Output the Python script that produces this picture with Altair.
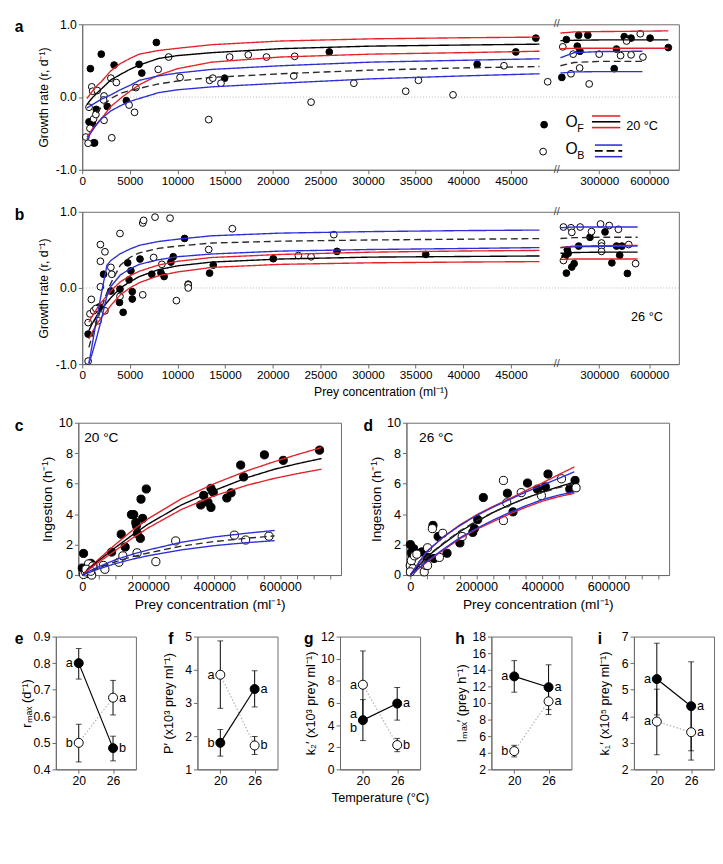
import altair as alt
import pandas as pd

FONT = "Liberation Sans"
RED = "#e3232b"
BLUE = "#2f2fd8"
DARK = "#2a2a2a"
FRAME = "#6a6a6a"

# ---------------- Panel a (20 C) growth data ----------------
A_F_X = [860, 2000, 3350, 716, 1100, 1194, 1300, 1480, 2630, 4633, 5970, 6256, 7785, 14949, 25934, 41455, 45515, 47616,
         76400, 103600, 169000, 177000, 185000, 232000, 390000, 403600, 450000, 491000, 605000, 714000]
A_F_Y = [0.39, 0.59, 0.44, -0.34, -0.375, -0.63, -0.63, -0.17, -0.13, -0.05, 0.45, 0.33, 0.75, 0.26, 0.62, 0.45, 0.62, 0.81,
         0.27, 0.79, 0.70, 0.85, 0.63, 0.85, 0.39, 0.66, 0.83, 0.81, 0.81, 0.68]
A_B_X = [382, 621, 812, 716, 1003, 1098, 1194, 1433, 1576, 2292, 2245, 2292, 3009, 3582, 3104, 4919, 5492, 5636, 7976,
         9074, 10268, 13277, 13373, 13707, 14567, 15474, 17432, 19342, 22304, 22208, 24023, 28513, 33957, 35294, 38924,
         44273, 48860, 82000, 131000, 144000, 183000, 240000, 300000, 428000, 464000, 491000, 546000, 562000]
A_B_Y = [-0.55, -0.635, -0.43, -0.14, 0.14, 0.08, -0.30, -0.24, 0.09, 0.015, -0.04, -0.32, 0.26, 0.20, -0.56, -0.11,
         -0.21, 0.13, 0.38, 0.55, 0.27, -0.31, 0.23, 0.26, 0.19, 0.55, 0.58, 0.55, 0.56, 0.29, -0.07, 0.19, 0.08, 0.23,
         0.03, 0.43, 0.21, 0.69, 0.32, 0.59, 0.40, 0.18, 0.59, 0.57, 0.77, 0.58, 0.87, 0.55]

A_CX_L = [500, 1000, 1500, 2000, 3000, 4000, 5000, 6000, 8000, 10000, 13600, 20800, 30300, 39900, 48000]
A_FHI_L = [-0.02, 0.07, 0.15, 0.21, 0.36, 0.46, 0.53, 0.59, 0.64, 0.67, 0.72, 0.77, 0.80, 0.815, 0.824]
A_FMID_L = [-0.10, -0.02, 0.05, 0.11, 0.235, 0.31, 0.38, 0.44, 0.53, 0.57, 0.61, 0.665, 0.70, 0.715, 0.727]
A_FLO_L = [-0.55, -0.45, -0.37, -0.30, -0.13, -0.02, 0.08, 0.17, 0.30, 0.39, 0.48, 0.55, 0.59, 0.61, 0.63]
A_BHI_L = [-0.15, -0.11, -0.07, -0.03, 0.03, 0.10, 0.16, 0.23, 0.29, 0.33, 0.38, 0.43, 0.48, 0.505, 0.526]
A_BMID_L = [None, None, -0.22, -0.14, -0.02, 0.05, 0.09, 0.12, 0.18, 0.22, 0.27, 0.32, 0.37, 0.40, 0.42]
A_BLO_L = [-0.58, -0.47, -0.38, -0.30, -0.19, -0.12, -0.06, -0.02, 0.06, 0.10, 0.14, 0.19, 0.25, 0.29, 0.32]
A_CX_R = [68000, 150000, 300000, 559000, 714000]
A_FHI_R = [0.88, 0.895, 0.90, 0.905, 0.91]
A_FMID_R = [0.775, 0.78, 0.785, 0.785, 0.785]
A_FLO_R = [0.665, 0.67, 0.67, 0.67, 0.67]
A_BHI_R = [0.54, 0.61, 0.625, 0.63, None]
A_BMID_R = [0.43, 0.475, 0.49, 0.49, None]
A_BLO_R = [0.33, 0.345, 0.35, 0.35, None]

# ---------------- Panel b (26 C) growth data ----------------
B_F_X = [620, 1800, 2245, 3009, 3964, 3916, 4298, 4776, 4919, 5254, 5254, 5110, 6065, 7307, 8262, 8597, 9313, 9552,
         10746, 11128, 13373, 13755, 20059, 26746, 36060,
         95500, 103600, 109000, 114500, 136000, 150000, 177000, 245000, 335000, 376000, 404000, 423000, 436000, 469000]
B_F_Y = [-0.606, -0.25, 0.18, -0.04, -0.015, -0.19, -0.32, 0.33, 0.107, -0.048, -0.145, 0.225, 0.38, 0.18, 0.20, 0.15,
         0.34, 0.41, 0.65, 0.05, 0.195, 0.30, 0.384, 0.48, 0.44,
         0.41, 0.195, 0.50, 0.455, 0.275, 0.32, 0.55, 0.665, 0.736, 0.33, 0.55, 0.43, 0.55, 0.19]
B_B_X = [620, 620, 812, 955, 1194, 1433, 1670, 1910, 1910, 1910, 2388, 2388, 3009, 3104, 3964, 3964, 6352, 6448, 6352,
         7498, 7642, 8358, 9218, 9886, 11128, 11128, 13277, 15761, 22686, 24023, 26411,
         86000, 86000, 131000, 136000, 186000, 254000, 308000, 314000, 314000, 314000, 360000, 415000, 477000, 518000]
B_B_Y = [-0.96, -0.455, -0.34, -0.15, -0.30, -0.27, -0.43, 0.57, 0.35, 0.015, 0.475, -0.30, 0.27, 0.18, 0.715, -0.11,
         0.853, 0.887, -0.09, 0.40, 0.93, 0.31, 0.916, -0.166, 0.04, 0.0, 0.505, 0.778, 0.425, 0.41, 0.70,
         0.80, 0.36, 0.79, 0.73, 0.80, 0.74, 0.84, 0.59, 0.55, 0.48, 0.82, 0.77, 0.57, 0.32]

B_CX_L = [700, 1000, 1500, 2000, 2600, 3000, 4000, 5000, 6000, 8000, 10000, 13600, 20800, 30300, 39900, 48000]
B_BHI_L = [-0.99, -0.78, -0.42, -0.08, 0.30, 0.36, 0.45, 0.51, 0.56, 0.61, 0.64, 0.685, 0.72, 0.74, 0.753, 0.76]
B_BMID_L = [-0.78, -0.65, -0.45, -0.27, -0.06, 0.06, 0.30, 0.40, 0.46, 0.52, 0.55, 0.59, 0.614, 0.63, 0.64, 0.648]
B_BLO_L = [-0.99, -0.88, -0.66, -0.42, -0.10, 0.02, 0.17, 0.25, 0.31, 0.37, 0.41, 0.446, 0.484, 0.505, 0.518, 0.53]
B_FHI_L = [-0.45, -0.38, -0.28, -0.19, -0.10, -0.04, 0.08, 0.16, 0.22, 0.30, 0.35, 0.40, 0.44, 0.47, 0.485, 0.493]
B_FMID_L = [-0.56, -0.48, -0.37, -0.28, -0.19, -0.13, 0.0, 0.08, 0.15, 0.24, 0.29, 0.34, 0.38, 0.405, 0.413, 0.42]
B_FLO_L = [-0.67, -0.59, -0.48, -0.39, -0.30, -0.23, -0.09, 0.0, 0.07, 0.16, 0.21, 0.27, 0.31, 0.33, 0.34, 0.346]
B_CX_R = [68000, 150000, 300000, 530000]
B_BHI_R = [0.79, 0.80, 0.80, 0.80]
B_BMID_R = [0.65, 0.66, 0.665, 0.665]
B_BLO_R = [0.53, 0.54, 0.545, 0.55]
B_FHI_R = [0.53, 0.55, 0.555, 0.56]
B_FMID_R = [0.455, 0.465, 0.47, 0.47]
B_FLO_R = [0.375, 0.38, 0.38, 0.38]

# ---------------- Panel c (20 C) ingestion ----------------
C_F_X = [0, 3800, 7600, 16000, 25700, 32000, 89000, 118000, 130000, 149000, 156000, 162000, 164000, 167000, 176000,
         178000, 183000, 194000, 359000, 368000, 381000, 390000, 390000, 397000, 438000, 451000, 480000, 489000,
         552000, 609000, 719000]
C_F_Y = [0.46, 1.42, 0.25, 0.10, 0.77, 0.63, 1.51, 2.68, 1.84, 3.97, 3.97, 3.45, 3.24, 2.72, 2.41, 4.98, 3.72, 5.65,
         4.60, 5.23, 4.77, 4.44, 5.69, 5.44, 5.06, 5.40, 7.22, 6.44, 7.89, 7.53, 8.20]
C_B_X = [3800, 9500, 19000, 28500, 32000, 11400, 25700, 64000, 68500, 111000, 123000, 166000, 223000, 283000, 461000,
         495000, 565700]
C_B_Y = [0.04, 0.21, 0.73, 0.0, 0.59, 0.38, 0.25, 0.63, 0.38, 0.84, 1.26, 1.46, 0.88, 2.24, 2.62, 2.30, 2.55]
C_CX = [0, 25000, 50000, 100000, 150000, 200000, 300000, 400000, 500000, 583000, 650000, 725000]
C_FHI = [0, 0.55, 1.05, 2.0, 2.9, 3.7, 5.0, 6.0, 6.85, 7.45, 7.9, 8.37]
C_FMID = [0, 0.5, 0.95, 1.8, 2.6, 3.35, 4.6, 5.55, 6.4, 6.95, 7.3, 7.65]
C_FLO = [0, 0.45, 0.85, 1.6, 2.4, 3.1, 4.3, 5.2, 5.9, 6.35, 6.65, 6.95]
C_BHI = [0, 0.3, 0.55, 1.0, 1.35, 1.65, 2.15, 2.5, 2.75, 2.93, None, None]
C_BMID = [0, 0.25, 0.48, 0.87, 1.2, 1.45, 1.9, 2.2, 2.42, 2.57, None, None]
C_BLO = [0, 0.2, 0.4, 0.75, 1.03, 1.27, 1.65, 1.93, 2.13, 2.26, None, None]

# ---------------- Panel d (26 C) ingestion ----------------
D_F_X = [0, 2900, 5900, 9800, 0, 35000, 52000, 68500, 71500, 84000, 111000, 150000, 189000, 194000, 204000, 221000,
         294000, 311000, 355000, 385000, 409000, 417000, 483000, 499000]
D_F_Y = [2.0, 1.47, 1.26, 1.73, 0.63, 1.52, 1.16, 3.26, 1.09, 2.53, 1.43, 2.11, 2.80, 3.05, 3.64, 5.09, 5.37, 4.15,
         6.04, 5.64, 5.79, 6.63, 5.64, 6.21]
D_B_X = [0, 2900, 7800, 0, 12700, 19600, 37000, 42000, 47000, 52000, 52000, 66600, 88000, 98000, 157000, 282000,
         282000, 292000, 336000, 397000, 458000, 502000]
D_B_Y = [0.63, 0.95, 0.42, 0.21, 1.26, 1.37, 0.74, 0.21, 0.63, 1.79, 0.63, 3.05, 1.16, 2.74, 2.53, 6.21, 3.58, 4.74,
         5.41, 5.22, 6.32, 5.73]
D_CX = [0, 25000, 50000, 100000, 150000, 200000, 250000, 300000, 350000, 400000, 450000, 497000]
D_FHI = [0, 0.8, 1.55, 2.5, 3.3, 3.95, 4.5, 5.0, 5.55, 6.05, 6.6, 7.1]
D_FMID = [0, 0.6, 1.2, 2.05, 2.85, 3.5, 4.1, 4.6, 5.05, 5.45, 5.8, 6.1]
D_FLO = [0, 0.42, 0.85, 1.65, 2.38, 3.0, 3.5, 4.0, 4.45, 4.85, 5.15, 5.37]
D_BHI = [0, 0.8, 1.55, 2.5, 3.25, 3.9, 4.45, 4.95, 5.45, 5.9, 6.35, 6.78]
D_BMID = [0, 0.62, 1.22, 2.1, 2.9, 3.55, 4.12, 4.6, 5.05, 5.42, 5.75, 6.0]
D_BLO = [0, 0.45, 0.9, 1.7, 2.45, 3.05, 3.6, 4.1, 4.55, 4.95, 5.25, 5.47]

# ---------------- Panels e-i: parameters ----------------
TEMPS = [20, 26]
E_F = [0.80, 0.48]; E_F_LO = [0.74, 0.432]; E_F_HI = [0.855, 0.525]
E_B = [0.50, 0.67]; E_B_LO = [0.428, 0.605]; E_B_HI = [0.57, 0.735]
E_LT = [20, 20, 26, 26]; E_LY = [0.80, 0.50, 0.48, 0.67]; E_LS = ["a", "b", "b", "a"]

F_F = [1.8, 3.42]; F_F_LO = [1.4, 2.88]; F_F_HI = [2.2, 3.97]
F_B = [3.85, 1.72]; F_B_LO = [2.84, 1.45]; F_B_HI = [4.87, 1.99]
F_LT = [20, 20, 26, 26]; F_LY = [1.8, 3.85, 3.42, 1.72]; F_LS = ["b", "a", "a", "b"]

G_F = [4.45, 5.95]; G_F_LO = [2.6, 4.45]; G_F_HI = [6.3, 7.4]
G_B = [7.65, 2.2]; G_B_LO = [4.6, 1.6]; G_B_HI = [10.7, 2.8]
G_LT = [20, 20, 20, 26, 26]; G_LY = [7.65, 5.0, 3.75, 5.95, 2.2]; G_LS = ["a", "a", "b", "a", "b"]

H_F = [13.2, 11.9]; H_F_LO = [11.3, 9.2]; H_F_HI = [15.1, 14.6]
H_B = [4.2, 10.2]; H_B_LO = [3.5, 8.6]; H_B_HI = [4.9, 11.8]
H_LT = [20, 20, 26, 26]; H_LY = [13.2, 4.2, 11.9, 10.2]; H_LS = ["a", "b", "a", "a"]

I_F = [5.4, 4.38]; I_F_LO = [4.05, 2.7]; I_F_HI = [6.75, 6.05]
I_B = [3.8, 3.4]; I_B_LO = [2.55, 2.35]; I_B_HI = [5.02, 4.45]
I_LT = [20, 20, 26, 26]; I_LY = [5.4, 3.8, 4.38, 3.4]; I_LS = ["a", "a", "a", "a"]

A_TICKS_L = [0, 5000, 10000, 15000, 20000, 25000, 30000, 35000, 40000, 45000]
A_TICKS_R = [300000, 600000]

# ---------------- layout constants ----------------
W_AB = 611
HGT_A, HGT_B = 149, 156
W_CD, HGT_CD = 269, 156
W_EI, HGT_EI = 82, 136
KL = 439.0 / 45000.0
U300 = 529.4
KR = 51.3 / 300000.0
BREAK_X = 60000
BREAK_U = 486
U_EXPR = f"datum.x <= {BREAK_X} ? datum.x * {KL} : {U300} + (datum.x - 300000) * {KR}"


def to_u(x):
    return x * KL if x <= BREAK_X else U300 + (x - 300000) * KR


def label_expr(values, labels):
    parts = [f"abs(datum.value - {v:.4f}) < 0.01 ? '{l}'" for v, l in zip(values, labels)]
    return " : ".join(parts) + " : ''"


CURVE_IDS = ["F_hi", "F_mid", "F_lo", "B_hi", "B_mid", "B_lo"]
CURVE_COLORS = [RED, "#000000", RED, BLUE, DARK, BLUE]
CURVE_DASH = [[1, 0], [1, 0], [1, 0], [1, 0], [7, 4], [1, 0]]


def curve_df(segments):
    rows = []
    for seg, xs, curves in segments:
        for cid, ys in curves:
            for x, y in zip(xs, ys):
                if y is not None:
                    rows.append({"curve": cid, "seg": seg, "x": x, "y": y})
    return pd.DataFrame(rows)


def points_df(fx, fy, bx, by):
    return pd.DataFrame({"x": list(fx) + list(bx), "y": list(fy) + list(by),
                         "kind": ["F"] * len(fx) + ["B"] * len(bx)})


FILL = alt.Fill("kind:N", scale=alt.Scale(domain=["F", "B"], range=["#000000", "#ffffff"]), legend=None)
COLOR = alt.Color("curve:N", scale=alt.Scale(domain=CURVE_IDS, range=CURVE_COLORS), legend=None)
DASHES = alt.StrokeDash("curve:N", scale=alt.Scale(domain=CURVE_IDS, range=CURVE_DASH), legend=None)


def txt(text, x, y, size=13, weight="normal", align="left"):
    return alt.Chart(pd.DataFrame({"k": [0]})).mark_text(
        text=text, fontSize=size, fontWeight=weight, align=align, baseline="middle", font=FONT, color="black"
    ).encode(x=alt.value(x), y=alt.value(y))


def letter(text, x):
    return alt.Chart(pd.DataFrame({"k": [0]})).mark_text(
        text=text, fontSize=16, fontWeight="bold", align="left", baseline="top", font=FONT, color="black"
    ).encode(x=alt.value(x), y=alt.value(-5))


def hrule(x1, x2, y, color, dash=None):
    kw = {"color": color, "strokeWidth": 1.6}
    if dash:
        kw["strokeDash"] = dash
    return alt.Chart(pd.DataFrame({"k": [0]})).mark_rule(**kw).encode(
        x=alt.value(x1), x2=alt.value(x2), y=alt.value(y))


def dot(x, y, fill):
    return alt.Chart(pd.DataFrame({"k": [0]})).mark_circle(
        size=48, fill=fill, stroke="black", strokeWidth=1, opacity=1).encode(x=alt.value(x), y=alt.value(y))


def growth_panel(pts, curves, let, xtitle, extras, height):
    tick_vals = [to_u(t) for t in A_TICKS_L + A_TICKS_R]
    tick_labs = [str(t) for t in A_TICKS_L + A_TICKS_R]
    xaxis_kw = dict(values=tick_vals, labelExpr=label_expr(tick_vals, tick_labs), tickSize=4,
                    labelPadding=2, labelFontSize=12, labelFlush=False)
    if xtitle:
        xaxis = alt.Axis(title=xtitle, titlePadding=5, titleFontSize=12.5, **xaxis_kw)
    else:
        xaxis = alt.Axis(title=None, **xaxis_kw)
    X = alt.X("u:Q", scale=alt.Scale(domain=[0, W_AB], nice=False, zero=False), axis=xaxis)
    yaxis = alt.Axis(values=[-1, -0.5, 0, 0.5, 1],
                     labelExpr="replace(format(datum.value, '.1f'), '\u2212', '-')",
                     title="Growth rate (r, d\u207b\u00b9)", titleFontSize=12.5, labelFontSize=12.5,
                     minExtent=29, maxExtent=29, titlePadding=4, tickSize=4, labelPadding=2)
    Y = alt.Y("y:Q", scale=alt.Scale(domain=[-1, 1], nice=False, zero=False), axis=yaxis)

    zero = alt.Chart(pd.DataFrame({"k": [0]})).mark_rule(color="#b5b5b5", strokeDash=[1, 2], strokeWidth=1).encode(
        y=alt.datum(0))
    p = alt.Chart(pts).transform_calculate(u=U_EXPR).mark_circle(
        size=48, stroke="black", strokeWidth=1, opacity=1).encode(x=X, y=Y, fill=FILL)
    l = alt.Chart(curves).transform_calculate(u=U_EXPR).mark_line(strokeWidth=1.4).encode(
        x=X, y=Y, color=COLOR, strokeDash=DASHES, detail="seg:N", order="x:Q")
    brk_df = pd.DataFrame({"u": [BREAK_U]})
    brk_top = alt.Chart(brk_df).mark_text(text="//", fontSize=11, font=FONT, color="#444").encode(
        x=alt.X("u:Q"), y=alt.value(0))
    brk_bot = alt.Chart(brk_df).mark_text(text="//", fontSize=11, font=FONT, color="#444").encode(
        x=alt.X("u:Q"), y=alt.value(height))
    return alt.layer(zero, p, l, brk_top, brk_bot, letter(let, -69), *extras).properties(
        width=W_AB, height=height)


def ingestion_panel(pts, curves, let, let_x, temp_label, temp_x):
    X = alt.X("x:Q", scale=alt.Scale(domain=[-12000, 784000], nice=False, zero=False),
              axis=alt.Axis(values=list(range(0, 750001, 50000)),
                            labelExpr="datum.value % 200000 == 0 ? format(datum.value, 'd') : ''",
                            title="Prey concentration (ml\u207b\u00b9)", titleFontSize=14, labelFontSize=13,
                            tickSize=4, labelPadding=2, titlePadding=4, labelFlush=False))
    Y = alt.Y("y:Q", scale=alt.Scale(domain=[0, 10], nice=False, zero=False),
              axis=alt.Axis(values=[0, 2, 4, 6, 8, 10], format="d", title="Ingestion (h\u207b\u00b9)",
                            titleFontSize=14, labelFontSize=13, minExtent=21, maxExtent=21, titlePadding=3,
                            tickSize=4, labelPadding=2))
    p = alt.Chart(pts).mark_circle(size=70, stroke="black", strokeWidth=1, opacity=1).encode(x=X, y=Y, fill=FILL)
    l = alt.Chart(curves).mark_line(strokeWidth=1.4).encode(
        x=X, y=Y, color=COLOR, strokeDash=DASHES, detail="seg:N", order="x:Q")
    return alt.layer(p, l, letter(let, let_x), txt(temp_label, temp_x, 16, size=14)).properties(
        width=W_CD, height=HGT_CD)


def param_panel(let, let_x, ytitle, ydom, yticks, yfmt, fm, flo, fhi, bm, blo, bhi, lt, ly, ls, xtitle=None):
    df = pd.DataFrame({"t": TEMPS * 2, "m": list(fm) + list(bm), "lo": list(flo) + list(blo),
                       "hi": list(fhi) + list(bhi), "kind": ["F", "F", "B", "B"]})
    xs = alt.Scale(domain=[16, 30], nice=False, zero=False)
    ys = alt.Scale(domain=ydom, nice=False, zero=False)
    xaxis = alt.Axis(values=TEMPS, title=xtitle, titleFontSize=13, labelFontSize=12.5, tickSize=4,
                     labelPadding=2, titlePadding=4)
    yaxis = alt.Axis(values=yticks, format=yfmt, title=ytitle, titleFontSize=13, labelFontSize=12.5,
                     minExtent=20, maxExtent=20, titlePadding=3, tickSize=4, labelPadding=2)
    X = alt.X("t:Q", scale=xs, axis=xaxis)
    Y = alt.Y("m:Q", scale=ys, axis=yaxis)
    base = alt.Chart(df)
    line_b = base.transform_filter("datum.kind == 'B'").mark_line(
        color="#b0b0b0", strokeDash=[1.5, 2], strokeWidth=1.2).encode(x=X, y=Y)
    line_f = base.transform_filter("datum.kind == 'F'").mark_line(color="black", strokeWidth=1.2).encode(x=X, y=Y)
    err = base.mark_rule(color="black", strokeWidth=1).encode(
        x=X, y=alt.Y("lo:Q", scale=ys, axis=yaxis), y2="hi:Q")
    cap_lo = base.mark_tick(orient="horizontal", size=6, thickness=1, color="black").encode(
        x=X, y=alt.Y("lo:Q", scale=ys, axis=yaxis))
    cap_hi = base.mark_tick(orient="horizontal", size=6, thickness=1, color="black").encode(
        x=X, y=alt.Y("hi:Q", scale=ys, axis=yaxis))
    pts = base.mark_circle(size=85, stroke="black", strokeWidth=1, opacity=1).encode(x=X, y=Y, fill=FILL)
    ldf = pd.DataFrame({"t": lt, "m": ly, "s": ls})
    lab_l = alt.Chart(ldf).transform_filter("datum.t == 20").mark_text(
        align="right", dx=-6, fontSize=13, font=FONT, baseline="middle").encode(x=X, y=Y, text="s:N")
    lab_r = alt.Chart(ldf).transform_filter("datum.t == 26").mark_text(
        align="left", dx=6, fontSize=13, font=FONT, baseline="middle").encode(x=X, y=Y, text="s:N")
    return alt.layer(line_b, line_f, err, cap_lo, cap_hi, pts, lab_l, lab_r, letter(let, let_x)).properties(
        width=W_EI, height=HGT_EI)


# ---------------- build panels ----------------
a_curves = curve_df([
    ("L", A_CX_L, [("F_hi", A_FHI_L), ("F_mid", A_FMID_L), ("F_lo", A_FLO_L),
                   ("B_hi", A_BHI_L), ("B_mid", A_BMID_L), ("B_lo", A_BLO_L)]),
    ("R", A_CX_R, [("F_hi", A_FHI_R), ("F_mid", A_FMID_R), ("F_lo", A_FLO_R),
                   ("B_hi", A_BHI_R), ("B_mid", A_BMID_R), ("B_lo", A_BLO_R)]),
])
b_curves = curve_df([
    ("L", B_CX_L, [("F_hi", B_FHI_L), ("F_mid", B_FMID_L), ("F_lo", B_FLO_L),
                   ("B_hi", B_BHI_L), ("B_mid", B_BMID_L), ("B_lo", B_BLO_L)]),
    ("R", B_CX_R, [("F_hi", B_FHI_R), ("F_mid", B_FMID_R), ("F_lo", B_FLO_R),
                   ("B_hi", B_BHI_R), ("B_mid", B_BMID_R), ("B_lo", B_BLO_R)]),
])
c_curves = curve_df([("L", C_CX, [("F_hi", C_FHI), ("F_mid", C_FMID), ("F_lo", C_FLO),
                                  ("B_hi", C_BHI), ("B_mid", C_BMID), ("B_lo", C_BLO)])])
d_curves = curve_df([("L", D_CX, [("F_hi", D_FHI), ("F_mid", D_FMID), ("F_lo", D_FLO),
                                  ("B_hi", D_BHI), ("B_mid", D_BMID), ("B_lo", D_BLO)])])

# legend inside panel a, placed as fractions of the panel height
ha = HGT_A
legend_a = [
    dot(473, 0.69 * ha, "black"),
    txt("O", 495, 0.675 * ha, size=16, align="left"),
    txt("F", 507, 0.72 * ha, size=11, align="left"),
    hrule(522, 551, 0.63 * ha, RED), hrule(522, 551, 0.67 * ha, "black"), hrule(522, 551, 0.71 * ha, RED),
    txt("20 \u00b0C", 557, 0.70 * ha, size=13),
    dot(472, 0.875 * ha, "white"),
    txt("O", 495, 0.86 * ha, size=16, align="left"),
    txt("B", 507, 0.905 * ha, size=11, align="left"),
    hrule(525, 553, 0.83 * ha, BLUE), hrule(525, 553, 0.87 * ha, "black", dash=[8, 4]),
    hrule(525, 553, 0.91 * ha, BLUE),
]

panel_a = growth_panel(points_df(A_F_X, A_F_Y, A_B_X, A_B_Y), a_curves, "a", None, legend_a, HGT_A)
panel_b = growth_panel(points_df(B_F_X, B_F_Y, B_B_X, B_B_Y), b_curves, "b",
                       "Prey concentration (ml\u207b\u00b9)", [txt("26 \u00b0C", 562, 0.69 * HGT_B, size=13)], HGT_B)
panel_c = ingestion_panel(points_df(C_F_X, C_F_Y, C_B_X, C_B_Y), c_curves, "c", -65, "20 \u00b0C", 6)
panel_d = ingestion_panel(points_df(D_F_X, D_F_Y, D_B_X, D_B_Y), d_curves, "d", -44, "26 \u00b0C", 13)

panel_e = param_panel("e", -42, "r\u2098\u2090\u2093 (d\u207b\u00b9)", [0.4, 0.9], [0.4, 0.5, 0.6, 0.7, 0.8, 0.9], ".1f",
                      E_F, E_F_LO, E_F_HI, E_B, E_B_LO, E_B_HI, E_LT, E_LY, E_LS)
panel_f = param_panel("f", -30, "P\u2032 (x10\u00b3 prey ml\u207b\u00b9)", [1, 5], [1, 2, 3, 4, 5], "d",
                      F_F, F_F_LO, F_F_HI, F_B, F_B_LO, F_B_HI, F_LT, F_LY, F_LS)
panel_g = param_panel("g", -37, "k\u2082\u2032 (x10\u00b3 prey ml\u207b\u00b9)", [0, 12], [0, 2, 4, 6, 8, 10, 12], "d",
                      G_F, G_F_LO, G_F_HI, G_B, G_B_LO, G_B_HI, G_LT, G_LY, G_LS, xtitle="Temperature (\u00b0C)")
panel_h = param_panel("h", -37, "I\u2098\u2090\u2093\u2032 (prey h\u207b\u00b9)", [2, 18], [2, 4, 6, 8, 10, 12, 14, 16, 18], "d",
                      H_F, H_F_LO, H_F_HI, H_B, H_B_LO, H_B_HI, H_LT, H_LY, H_LS)
panel_i = param_panel("i", -37, "k\u2081\u2032 (x10\u2075 prey ml\u207b\u00b9)", [2, 7], [2, 3, 4, 5, 6, 7], "d",
                      I_F, I_F_LO, I_F_HI, I_B, I_B_LO, I_B_HI, I_LT, I_LY, I_LS)

# an invisible 1-px spacer in front of every row makes the rows line up by their left edges
SPACER = alt.Chart(pd.DataFrame({"k": [0]})).mark_point(opacity=0).encode(
    x=alt.value(0), y=alt.value(0)
).properties(width=1, height=1, view=alt.ViewBackground(stroke="transparent", strokeWidth=0))


def row(inner):
    return alt.hconcat(SPACER, inner, spacing=0)


row_a = row(panel_a)
row_b = row(panel_b)
row_cd = row(alt.hconcat(panel_c, panel_d, spacing=21))
row_ei = row(alt.hconcat(panel_e, panel_f, panel_g, panel_h, panel_i, spacing=25))

chart = alt.vconcat(row_a, row_b, row_cd, row_ei, spacing=18).properties(
    padding=0
).configure_view(stroke=FRAME, strokeWidth=1).configure_axis(
    labelFont=FONT, titleFont=FONT, labelColor="black", titleColor="black", titleFontWeight="normal",
    domainColor=FRAME, tickColor=FRAME, grid=False
).configure_text(font=FONT)

chart.save("out.html", embed_options={"renderer": "svg", "actions": False})
